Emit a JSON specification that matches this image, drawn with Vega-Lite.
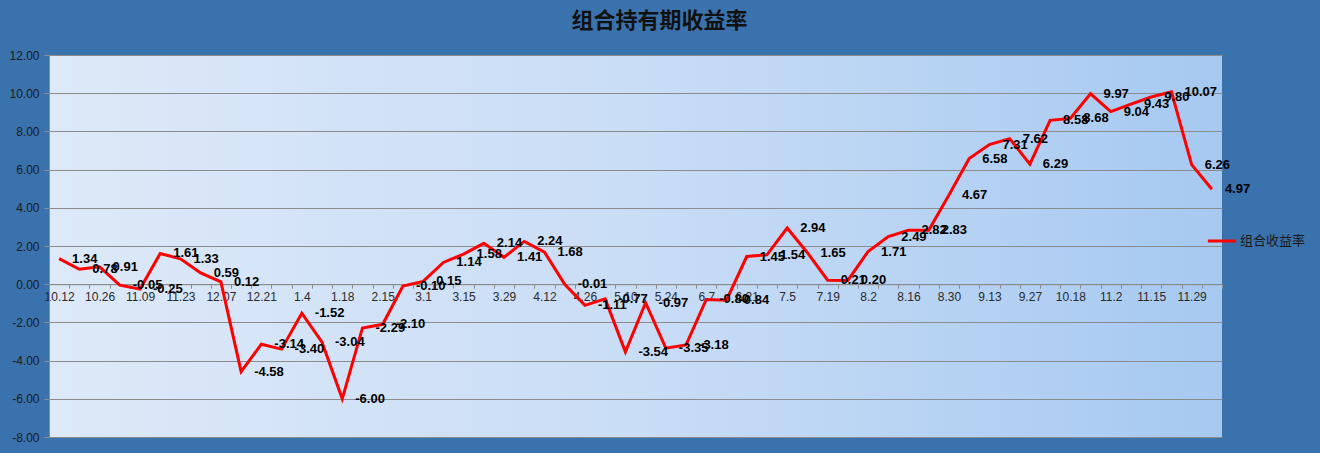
{
  "$schema": "https://vega.github.io/schema/vega-lite/v6.json",
  "description": "组合持有期收益率",
  "width": 1173,
  "height": 382,
  "autosize": {"type": "none"},
  "padding": {"left": 49, "top": 55, "right": 98, "bottom": 16},
  "background": "#3A72AD",
  "title": {
    "text": "组合持有期收益率",
    "font": "Noto Sans CJK SC",
    "fontSize": 22,
    "fontWeight": "bold",
    "color": "#111111",
    "anchor": "middle",
    "dx": 24,
    "offset": 16
  },
  "config": {
    "locale": {
      "number": {
        "decimal": ".",
        "thousands": ",",
        "grouping": [3],
        "currency": ["", ""],
        "minus": "-"
      }
    },
    "view": {
      "stroke": null,
      "fill": {
        "gradient": "linear",
        "x1": 0, "y1": 0, "x2": 1, "y2": 0,
        "stops": [
          {"offset": 0, "color": "#DDE9F8"},
          {"offset": 0.5, "color": "#C9DDF6"},
          {"offset": 1, "color": "#A6C9F1"}
        ]
      }
    }
  },
  "data": {
    "values": [
      {"d": "10.12", "v": 1.34}, {"d": "10.19", "v": 0.78}, {"d": "10.26", "v": 0.91},
      {"d": "11.02", "v": -0.05}, {"d": "11.09", "v": -0.25}, {"d": "11.16", "v": 1.61},
      {"d": "11.23", "v": 1.33}, {"d": "11.30", "v": 0.59}, {"d": "12.07", "v": 0.12},
      {"d": "12.14", "v": -4.58}, {"d": "12.21", "v": -3.14}, {"d": "12.28", "v": -3.40},
      {"d": "1.4", "v": -1.52}, {"d": "1.11", "v": -3.04}, {"d": "1.18", "v": -6.00},
      {"d": "2.1", "v": -2.29}, {"d": "2.15", "v": -2.10}, {"d": "2.22", "v": -0.10},
      {"d": "3.1", "v": 0.15}, {"d": "3.8", "v": 1.14}, {"d": "3.15", "v": 1.58},
      {"d": "3.22", "v": 2.14}, {"d": "3.29", "v": 1.41}, {"d": "4.6", "v": 2.24},
      {"d": "4.12", "v": 1.68}, {"d": "4.19", "v": -0.01}, {"d": "4.26", "v": -1.11},
      {"d": "5.6", "v": -0.77}, {"d": "5.10", "v": -3.54}, {"d": "5.17", "v": -0.97},
      {"d": "5.24", "v": -3.35}, {"d": "5.31", "v": -3.18}, {"d": "6.7", "v": -0.80},
      {"d": "6.15", "v": -0.84}, {"d": "6.21", "v": 1.45}, {"d": "6.28", "v": 1.54},
      {"d": "7.5", "v": 2.94}, {"d": "7.12", "v": 1.65}, {"d": "7.19", "v": 0.21},
      {"d": "7.26", "v": 0.20}, {"d": "8.2", "v": 1.71}, {"d": "8.9", "v": 2.49},
      {"d": "8.16", "v": 2.82}, {"d": "8.23", "v": 2.83}, {"d": "8.30", "v": 4.67},
      {"d": "9.6", "v": 6.58}, {"d": "9.13", "v": 7.31}, {"d": "9.22", "v": 7.62},
      {"d": "9.27", "v": 6.29}, {"d": "10.11", "v": 8.58}, {"d": "10.18", "v": 8.68},
      {"d": "10.25", "v": 9.97}, {"d": "11.2", "v": 9.04}, {"d": "11.8", "v": 9.43},
      {"d": "11.15", "v": 9.80}, {"d": "11.22", "v": 10.07}, {"d": "11.29", "v": 6.26},
      {"d": "12.6", "v": 4.97}
    ]
  },
  "encoding": {
    "x": {
      "field": "d",
      "type": "ordinal",
      "sort": null,
      "scale": {"type": "band", "paddingInner": 0, "paddingOuter": 0},
      "axis": {
        "title": null,
        "offset": -152.8,
        "tickBand": "extent",
        "tickSize": 4,
        "tickColor": "#8C8C8C",
        "domainColor": "#8C8C8C",
        "labelAngle": 0,
        "labelPadding": 3,
        "labelFont": "Liberation Sans",
        "labelFontSize": 12,
        "labelColor": "#2A2A2A",
        "labelOverlap": false,
        "labelExpr": "indexof(['10.12','10.26','11.09','11.23','12.07','12.21','1.4','1.18','2.15','3.1','3.15','3.29','4.12','4.26','5.10','5.24','6.7','6.21','7.5','7.19','8.2','8.16','8.30','9.13','9.27','10.18','11.2','11.15','11.29'], datum.value) >= 0 ? datum.value : ''",
        "grid": false
      }
    },
    "y": {
      "field": "v",
      "type": "quantitative",
      "scale": {"domain": [-8, 12], "nice": false, "zero": false},
      "axis": {
        "title": null,
        "values": [-8, -6, -4, -2, 0, 2, 4, 6, 8, 10, 12],
        "format": ".2f",
        "tickSize": 5,
        "tickColor": "#8C8C8C",
        "domainColor": "#8C8C8C",
        "gridColor": "#8C8C8C",
        "gridWidth": 1,
        "labelPadding": 5,
        "labelFont": "Liberation Sans",
        "labelFontSize": 12,
        "labelColor": "#1B1B1B"
      }
    }
  },
  "layer": [
    {
      "mark": {"type": "line", "strokeWidth": 3},
      "encoding": {
        "color": {
          "datum": "组合收益率",
          "scale": {"range": ["#FF0000"]},
          "legend": {
            "title": null,
            "orient": "none",
            "legendX": 1157,
            "legendY": 170,
            "symbolType": "stroke",
            "symbolStrokeWidth": 3,
            "symbolSize": 800,
            "labelFont": "Noto Sans CJK SC",
            "labelFontSize": 13,
            "labelColor": "#1A1A1A",
            "labelOffset": 2
          }
        }
      }
    },
    {
      "mark": {
        "type": "text",
        "align": "left",
        "baseline": "middle",
        "dx": 13,
        "font": "Liberation Sans",
        "fontSize": 13,
        "fontWeight": "bold",
        "color": "#000000"
      },
      "encoding": {
        "text": {"field": "v", "type": "quantitative", "format": ".2f"}
      }
    }
  ]
}
